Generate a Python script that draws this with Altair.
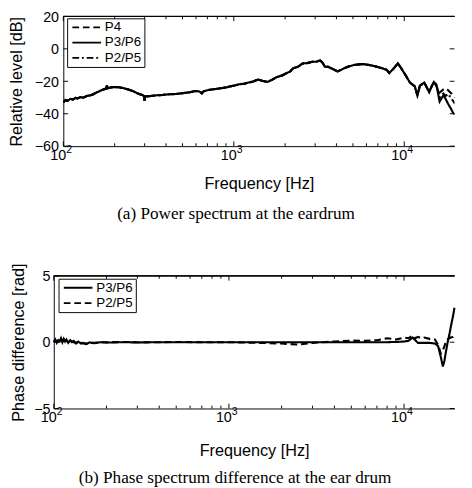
import altair as alt
import pandas as pd

FONT = "Liberation Sans"
SERIF = "Liberation Serif"

# ---------------- (a) power spectrum ----------------
freq_a_low = [100, 103, 106, 110, 114, 118, 121, 126, 131, 138, 145, 150, 156, 163, 170, 178, 180, 182, 186, 193,
              200, 211, 225, 240, 255, 273, 290, 297, 299, 302, 311, 330, 354, 385, 419, 460, 501, 550, 594, 630,
              650, 665, 700, 740, 800, 860, 910, 944, 1010, 1074, 1150, 1223, 1300, 1390, 1480, 1580, 1680, 1798,
              1920, 2045, 2140, 2226, 2380, 2535, 2700, 2884, 3050, 3210, 3320, 3420, 3570, 3730, 3900, 4063, 4250,
              4436, 4750, 5048, 5400, 5743, 6100, 6530, 7000, 7430, 7900, 8166, 8600, 9174, 9600, 10130, 10800,
              11520, 11940, 12350, 13110, 13990, 14500, 14920]
level_low = [-33.0, -31.5, -32.0, -30.8, -31.3, -30.2, -30.6, -29.8, -30.1, -29.0, -28.6, -28.0, -27.0, -26.1, -25.2,
             -24.5, -22.4, -24.3, -24.0, -23.7, -23.5, -23.7, -24.2, -25.0, -26.0, -27.5, -28.5, -29.0, -32.0, -29.2,
             -29.3, -29.0, -28.6, -28.4, -28.0, -27.8, -27.3, -26.8, -26.0, -26.3, -27.4, -26.2, -25.5, -25.1, -24.6,
             -24.1, -23.7, -23.2, -22.6, -21.8, -21.5, -20.8, -20.1, -18.9, -19.8, -20.4, -19.0, -17.3, -16.4, -14.9,
             -14.0, -12.0, -11.0, -9.0, -8.8, -8.0, -7.9, -7.1, -8.6, -11.0, -11.0, -12.0, -13.0, -13.9, -13.0,
             -12.0, -10.8, -10.0, -9.6, -9.4, -9.8, -10.4, -11.2, -12.0, -13.0, -14.9, -12.5, -9.0, -12.0, -15.9,
             -20.8, -23.1, -28.6, -22.7, -20.8, -26.7, -23.0, -20.4]
freq_a_high = [15450, 16120, 16970, 17500, 18100, 18700, 19310, 19880]
p4_high = [-23.0, -27.0, -25.0, -24.5, -25.5, -27.0, -28.5, -30.0]
p36_high = [-22.5, -32.5, -28.6, -31.0, -34.0, -36.5, -39.4, -40.5]
p25_high = [-22.0, -30.0, -27.5, -29.0, -27.8, -30.0, -32.0, -34.0]

series_a = ["P4", "P3/P6", "P2/P5"]
dash_a = [[7, 4], [1, 0], [7, 3, 2, 3]]

# ---------------- (b) phase difference ----------------
freq_b = [100, 102, 104, 106, 108, 110, 112, 114, 116, 118, 121, 124, 127, 130, 134, 138, 143, 148, 153, 160,
          170, 185, 200, 250, 300, 400, 500, 700, 1000, 1500, 2000, 2500, 3000, 4000, 5000, 6000, 7000, 8000,
          9000, 10000, 10600, 11200, 11600, 12000, 12500, 13000, 14000, 15000, 15650, 16200, 16660, 17000, 17300,
          17740, 18100, 18490, 19060, 19400]
phase_36 = [0.0, 0.2, -0.05, 0.15, 0.05, 0.3, 0.0, 0.25, 0.05, 0.2, -0.05, 0.15, 0.0, 0.1, -0.1, 0.05, -0.1, -0.05,
            -0.15, -0.02,
            -0.08, 0.0, -0.03, 0.0, -0.02, 0.0, 0.0, 0.0, 0.0, 0.0, 0.0, 0.0, 0.0, 0.0, 0.0, 0.0, 0.0, 0.0,
            0.02, 0.05, 0.1, 0.35, 0.15, -0.05, -0.05, -0.05, -0.05, -0.1, -0.3, -1.1, -1.84, -1.4, -0.8, 0.0, 0.5,
            1.16, 2.0, 2.6]
phase_25 = [0.05, 0.1, 0.1, 0.05, 0.15, 0.2, 0.05, 0.2, 0.1, 0.1, 0.05, 0.1, 0.05, 0.0, -0.05, 0.0, -0.05, -0.1,
            -0.1, -0.05,
            -0.05, 0.0, 0.0, 0.02, 0.0, 0.0, 0.02, 0.0, 0.0, -0.05, -0.1, -0.18, -0.05, 0.05, 0.12, 0.1, 0.15, 0.3,
            0.2, 0.35, 0.3, 0.5, 0.3, 0.4, 0.3, 0.35, 0.25, 0.2, -0.2, -0.85, -0.6, -0.3, 0.0, 0.2, 0.3, 0.35, 0.4,
            0.5]
series_b = ["P3/P6", "P2/P5"]
dash_b = [[1, 0], [7, 4]]

major_x = [100, 1000, 10000]
exponents = ["2", "3", "4"]
minor_x = [200, 300, 400, 500, 600, 700, 800, 900, 2000, 3000, 4000, 5000, 6000, 7000, 8000, 9000]
yticks_a = [-60, -40, -20, 0, 20]
yticks_b = [-5, 0, 5]

cap_a = "(a) Power spectrum at the eardrum"
cap_b = "(b) Phase spectrum difference at the ear drum"

# ---------------- tables ----------------
fa = freq_a_low + freq_a_high
rows_a = []
for name, high in zip(series_a, [p4_high, p36_high, p25_high]):
    vals = level_low + high
    assert len(vals) == len(fa)
    for f, v in zip(fa, vals):
        rows_a.append({"f": f, "v": v, "s": name})
df_a = pd.DataFrame(rows_a)

rows_b = []
for name, vals in zip(series_b, [phase_36, phase_25]):
    assert len(vals) == len(freq_b)
    for f, v in zip(freq_b, vals):
        rows_b.append({"f": f, "v": v, "s": name})
df_b = pd.DataFrame(rows_b)

dec_df = pd.DataFrame({"f": major_x, "e": exponents})
minor_df = pd.DataFrame({"f": minor_x})


def panel(df, order, dashes, ydom, yvals, ytitle, W, H, xdom, caption, cap_dx,
          title_pad, label_pad, shift, freq_pad, cap_off, leg_x, leg_y, clip):
    # shift: how far (px) the plot frame starts left of the panel origin
    xs = alt.Scale(type="log", domain=xdom, range=[-shift, W], nice=False)
    ys = alt.Scale(domain=ydom, nice=False, zero=False)
    xaxis = alt.Axis(labels=False, ticks=False, grid=False, domain=True,
                     domainColor="black", title="Frequency [Hz]",
                     titleFont=FONT, titleFontSize=17, titleFontWeight="normal",
                     titleColor="black", titlePadding=freq_pad)
    yaxis = alt.Axis(values=yvals, ticks=False, grid=False, domainColor="black",
                     labelFont=FONT, labelFontSize=15, labelColor="black",
                     labelPadding=label_pad, title=ytitle, titleFont=FONT,
                     titleFontSize=17, titleFontWeight="normal", titleColor="black",
                     titlePadding=title_pad, offset=shift)
    legend = alt.Legend(title=None, orient="none", legendX=leg_x, legendY=leg_y,
                        symbolType="M-1,0H6.5", symbolSize=64, symbolStrokeWidth=2,
                        symbolStrokeColor="black", symbolFillColor="transparent",
                        labelFont=FONT, labelFontSize=14, labelColor="black",
                        labelOffset=23, padding=2.5, rowPadding=2,
                        strokeColor="black", fillColor="white")

    def X(field="f:Q"):
        return alt.X(field, scale=xs, axis=xaxis, title="Frequency [Hz]")

    def Y(field):
        return alt.Y(field, scale=ys, axis=yaxis, title=ytitle)

    lines = alt.Chart(df).mark_line(color="black", strokeWidth=2.2, clip=clip).encode(
        x=X(), y=Y("v:Q"),
        strokeDash=alt.StrokeDash("s:N", scale=alt.Scale(domain=order, range=dashes),
                                  sort=order, legend=legend),
    )
    frame_top = alt.Chart(dec_df).mark_rule(color="black").encode(
        x=alt.X(datum=xdom[0], scale=xs, axis=xaxis, title="Frequency [Hz]"),
        x2=alt.X2(datum=xdom[1]), y=alt.value(0))
    top_major = alt.Chart(dec_df).mark_rule(color="black").encode(
        x=X(), y=alt.value(0), y2=alt.value(5))
    top_minor = alt.Chart(minor_df).mark_rule(color="black").encode(
        x=X(), y=alt.value(0), y2=alt.value(3))
    bot_major = alt.Chart(dec_df).mark_rule(color="black").encode(
        x=X(), y=alt.value(H - 5), y2=alt.value(H))
    bot_minor = alt.Chart(minor_df).mark_rule(color="black").encode(
        x=X(), y=alt.value(H - 3), y2=alt.value(H))
    ydf = pd.DataFrame({"y": yvals})
    left_t = alt.Chart(ydf).mark_rule(color="black").encode(
        y=Y("y:Q"), x=alt.value(-shift), x2=alt.value(-shift + 5))
    right_t = alt.Chart(ydf).mark_rule(color="black").encode(
        y=Y("y:Q"), x=alt.value(W - 5), x2=alt.value(W))
    lab10 = alt.Chart(dec_df).mark_text(text="10", align="right", baseline="alphabetic", dx=3,
                                        font=FONT, fontSize=15, color="black").encode(
        x=X(), y=alt.value(H + 14))
    labexp = alt.Chart(dec_df).mark_text(align="left", baseline="alphabetic", dx=3,
                                         font=FONT, fontSize=11, color="black").encode(
        x=X(), y=alt.value(H + 7), text="e:N")
    ch = alt.layer(lines, frame_top, top_major, top_minor, bot_major, bot_minor, left_t,
                   right_t, lab10, labexp).properties(
        width=W, height=H,
        title=alt.Title(caption, orient="bottom", anchor="middle", frame="group", dx=cap_dx,
                        offset=cap_off, font=SERIF, fontSize=18, fontWeight="normal",
                        color="black"))
    return ch


top = panel(df_a, series_a, dash_a, [-60, 20], yticks_a, "Relative level [dB]", 410, 136,
            [100, 19700], cap_a, -24, 9, 5, 0, 31, 15, 4, 2, True)
bottom = panel(df_b, series_b, dash_b, [-5, 5], yticks_b, "Phase difference [rad]", 410, 139,
               [100, 19400], cap_b, -25, 7, 4, 10, 36, 12, -5, 3, False)

chart = alt.vconcat(top, bottom, spacing=42).resolve_scale(
    strokeDash="independent").resolve_legend(strokeDash="independent").properties(
    padding={"top": -10, "left": 0, "right": 0, "bottom": 0}).configure_view(stroke=None)

chart.save("out.html", embed_options={"renderer": "svg", "actions": False})
